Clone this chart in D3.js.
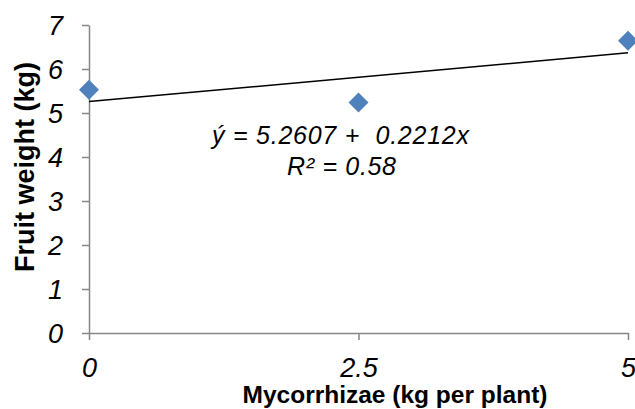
<!DOCTYPE html>
<html>
<head>
<meta charset="utf-8">
<script src="https://cdn.jsdelivr.net/npm/d3@7"></script>
<style>
  body { margin: 0; background: #fff; }
  text { font-family: "Liberation Sans", Arial, sans-serif; }
</style>
</head>
<body>
<div id="grafico"></div>
<script>
// datos
const dosis = [0, 2.5, 5];
const peso = [5.53, 5.24, 6.64];
const xTicks = [0, 2.5, 5];
const yTicks = [0, 1, 2, 3, 4, 5, 6, 7];
const intercepto = 5.2607;
const pendiente = 0.2212;

const width = 635;
const height = 409;
const margin = {top: 25, right: 7, bottom: 76, left: 89};

const svg = d3.select("#grafico")
  .append("svg")
  .attr("width", width)
  .attr("height", height);

const x = d3.scaleLinear().domain([0, 5]).range([margin.left, width - margin.right]);
const y = d3.scaleLinear().domain([0, 7]).range([height - margin.bottom, margin.top]);

// ejes
const ejeX = svg.append("g")
  .attr("transform", `translate(0,${y(0)})`)
  .call(d3.axisBottom(x).tickValues(xTicks).tickSize(7).tickSizeOuter(0)
    .tickFormat(d => String(d)));
const ejeY = svg.append("g")
  .attr("transform", `translate(${x(0)},0)`)
  .call(d3.axisLeft(y).tickValues(yTicks).tickSize(7).tickSizeOuter(0)
    .tickFormat(d3.format("d")));

[ejeX, ejeY].forEach(g => {
  g.select(".domain").attr("stroke", "#868686").attr("stroke-width", 1.5);
  g.selectAll(".tick line").attr("stroke", "#868686").attr("stroke-width", 1.5);
  g.selectAll(".tick text")
    .attr("fill", "#000")
    .style("font-size", "27px")
    .style("font-style", "italic")
    .style("font-family", "'Liberation Sans', Arial, sans-serif");
});
ejeX.selectAll(".tick text").attr("y", 25).attr("dy", "0.71em");
ejeY.selectAll(".tick text").attr("x", -26).attr("dy", "0.35em");

// linea de tendencia
svg.append("line")
  .attr("x1", x(0)).attr("y1", y(intercepto))
  .attr("x2", x(5)).attr("y2", y(intercepto + pendiente * 5))
  .attr("stroke", "#000")
  .attr("stroke-width", 1.5);

// puntos (rombos)
const r = 10;
svg.selectAll("path.punto")
  .data(dosis.map((d, i) => ({x: d, y: peso[i]})))
  .join("path")
  .attr("class", "punto")
  .attr("d", `M0,${-r}L${r},0L0,${r}L${-r},0Z`)
  .attr("transform", d => `translate(${x(d.x)},${y(d.y)})`)
  .attr("fill", "#4F81BD");

// ecuacion
svg.append("text")
  .attr("x", 212).attr("y", 144)
  .attr("textLength", 257).attr("lengthAdjust", "spacing")
  .style("font-size", "25px").style("font-style", "italic")
  .style("white-space", "pre")
  .text("ý = 5.2607 +  0.2212x");
svg.append("text")
  .attr("x", 287).attr("y", 175)
  .attr("textLength", 109).attr("lengthAdjust", "spacing")
  .style("font-size", "25px").style("font-style", "italic")
  .text("R² = 0.58");

// titulos
svg.append("text")
  .attr("x", 395).attr("y", 403)
  .attr("text-anchor", "middle")
  .style("font-size", "24.5px").style("font-weight", "bold")
  .text("Mycorrhizae (kg per plant)");
svg.append("text")
  .attr("transform", "translate(34,167) rotate(-90)")
  .attr("text-anchor", "middle")
  .style("font-size", "27px").style("font-weight", "bold")
  .text("Fruit weight (kg)");
</script>
</body>
</html>
